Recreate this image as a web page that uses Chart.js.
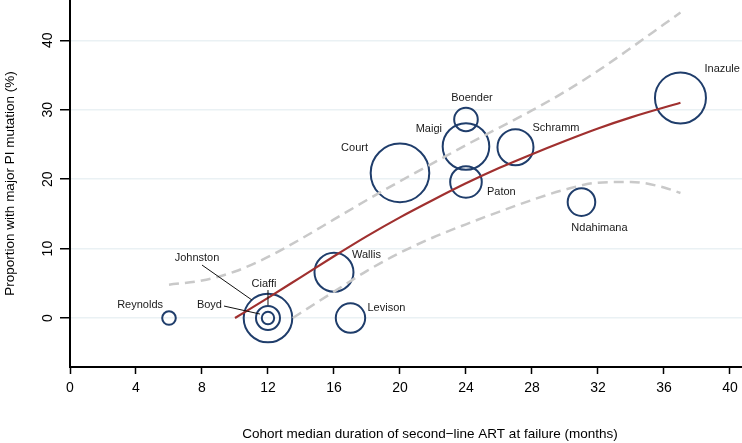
<!DOCTYPE html>
<html>
<head>
<meta charset="utf-8">
<script src="https://cdn.jsdelivr.net/npm/chart.js@4.4.0/dist/chart.umd.min.js"></script>
<style>
  html, body { margin: 0; padding: 0; background: #fff; }
  #wrap { width: 742px; height: 443px; }
</style>
</head>
<body>
<div id="wrap"><canvas id="mygraph"></canvas></div>
<script>
// study cohorts
let studies = ["Reynolds", "Johnston", "Ciaffi", "Boyd", "Wallis", "Levison", "Court",
               "Maigi", "Boender", "Paton", "Schramm", "Ndahimana", "Inazule"];
let duration = [6, 12, 12, 12, 16, 17, 20, 24, 24, 24, 27, 31, 37];
let proportion = [0, 0, 0, 0, 6.6, 0, 20.9, 24.7, 28.6, 19.6, 24.6, 16.7, 31.7];
let weight = [6.8, 24.3, 12, 6.2, 19.5, 14.7, 29.3, 23.3, 11.8, 15.8, 18, 13.8, 25.5];

// fitted line and confidence band
let fitX = [10, 12, 14, 16, 18, 20, 22, 24, 26, 28, 30, 32, 34, 37];
let fitY = [0, 2.9, 5.9, 8.9, 11.8, 14.5, 17.0, 19.4, 21.6, 23.6, 25.5, 27.3, 28.9, 31.0];
let upperX = [6, 8, 10, 12, 14, 16, 18, 20, 22, 24, 26, 28, 30, 32, 34, 36, 37];
let upperY = [4.8, 5.4, 6.7, 8.8, 11.4, 14.2, 17.0, 19.7, 22.3, 24.9, 27.4, 29.9, 32.6, 35.6, 38.9, 42.3, 44];
let lowerX = [13.5, 15, 16, 18, 20, 22, 24, 26, 28, 30, 32, 34, 36, 37];
let lowerY = [0, 2.3, 3.8, 6.8, 9.4, 11.6, 13.5, 15.3, 17.0, 18.5, 19.5, 19.6, 18.8, 18.0];

let xTicks = [0, 4, 8, 12, 16, 20, 24, 28, 32, 36, 40];
let yTicks = [0, 10, 20, 30, 40];

// label placement: [dx, dy, align] in px from the bubble centre
let labelPos = [[-6, -13, "right"], [-71, -60, "center"], [-4, -34, "center"], [-46, -13, "right"],
                [18, -17, "left"], [17, -10, "left"], [-32, -25, "right"], [-24, -18, "right"],
                [6, -21, "center"], [21, 10, "left"], [17, -19, "left"], [18, 26, "center"],
                [24, -29, "left"]];
let leaders = {
  "Johnston": [-66, -53, -16, -18],
  "Boyd": [-44, -12, -8, -4],
  "Ciaffi": [0, -28, 0, -13]
};

var font = "'Liberation Sans', Arial, sans-serif";

function pts(xs, ys) {
  return xs.map(function (x, i) { return { x: x, y: ys[i] }; });
}

function noPad(s) {
  s.paddingTop = 0; s.paddingBottom = 0; s.paddingLeft = 0; s.paddingRight = 0;
}

var labelPlugin = {
  id: "labels",
  afterDatasetsDraw: function (chart) {
    var c = chart.ctx;
    var meta = chart.getDatasetMeta(3);
    c.save();
    c.font = "11px " + font;
    c.fillStyle = "#1a1a1a";
    c.textBaseline = "middle";
    c.strokeStyle = "#111";
    c.lineWidth = 1;
    meta.data.forEach(function (el, i) {
      var p = labelPos[i];
      c.textAlign = p[2];
      c.fillText(studies[i], el.x + p[0], el.y + p[1]);
      var l = leaders[studies[i]];
      if (l) {
        c.beginPath();
        c.moveTo(el.x + l[0], el.y + l[1]);
        c.lineTo(el.x + l[2], el.y + l[3]);
        c.stroke();
      }
    });
    // x axis title
    var a = chart.chartArea;
    c.font = "13.5px " + font;
    c.fillStyle = "#000";
    c.textAlign = "center";
    c.fillText("Cohort median duration of second\u2212line ART at failure (months)", (a.left + a.right) / 2 + 24, 434);
    c.restore();
  }
};

var ctx = document.getElementById("mygraph");
var mygraph = new Chart(ctx, {
  type: "bubble",
  data: {
    datasets: [
      {
        type: "line",
        data: pts(fitX, fitY),
        borderColor: "#a0302f",
        borderWidth: 2.2,
        pointRadius: 0,
        cubicInterpolationMode: "monotone",
        fill: false,
        order: 0
      },
      {
        type: "line",
        data: pts(upperX, upperY),
        borderColor: "#c9c9c9",
        borderWidth: 2.5,
        borderDash: [10, 6],
        pointRadius: 0,
        cubicInterpolationMode: "monotone",
        fill: false,
        order: 1
      },
      {
        type: "line",
        data: pts(lowerX, lowerY),
        borderColor: "#c9c9c9",
        borderWidth: 2.5,
        borderDash: [10, 6],
        pointRadius: 0,
        cubicInterpolationMode: "monotone",
        fill: false,
        order: 1
      },
      {
        data: duration.map(function (x, i) { return { x: x, y: proportion[i], r: weight[i] }; }),
        backgroundColor: "rgba(0,0,0,0)",
        borderColor: "#1f3d6b",
        borderWidth: 2,
        order: 2
      }
    ]
  },
  options: {
    responsive: true,
    maintainAspectRatio: false,
    animation: false,
    layout: { padding: 0, autoPadding: false },
    plugins: { legend: { display: false }, tooltip: { enabled: false } },
    scales: {
      x: {
        type: "linear",
        min: 0,
        max: 40.73,
        afterFit: function (s) { s.height = 76; noPad(s); },
        afterBuildTicks: function (s) { s.ticks = xTicks.map(function (v) { return { value: v }; }); },
        ticks: { color: "#000", font: { family: font, size: 14 }, padding: 6, maxRotation: 0 },
        grid: { drawOnChartArea: false, drawTicks: true, tickColor: "#000", tickLength: 7, tickWidth: 1.5 },
        border: { color: "#000", width: 2 }
      },
      y: {
        type: "linear",
        min: -7.05,
        max: 45.8,
        afterFit: function (s) { s.width = 70; noPad(s); },
        afterBuildTicks: function (s) { s.ticks = yTicks.map(function (v) { return { value: v }; }); },
        ticks: { color: "#000", font: { family: font, size: 14 }, padding: 4, minRotation: 90, maxRotation: 90, crossAlign: "center" },
        grid: { color: "#eaf1f4", lineWidth: 1.5, drawTicks: true, tickColor: "#000", tickLength: 10, tickWidth: 1.5 },
        border: { color: "#000", width: 2 },
        title: { display: true, text: "Proportion with major PI mutation (%)", color: "#000", font: { family: font, size: 13.5 }, padding: { top: 2, bottom: 0 } }
      }
    }
  },
  plugins: [labelPlugin]
});
</script>
</body>
</html>
